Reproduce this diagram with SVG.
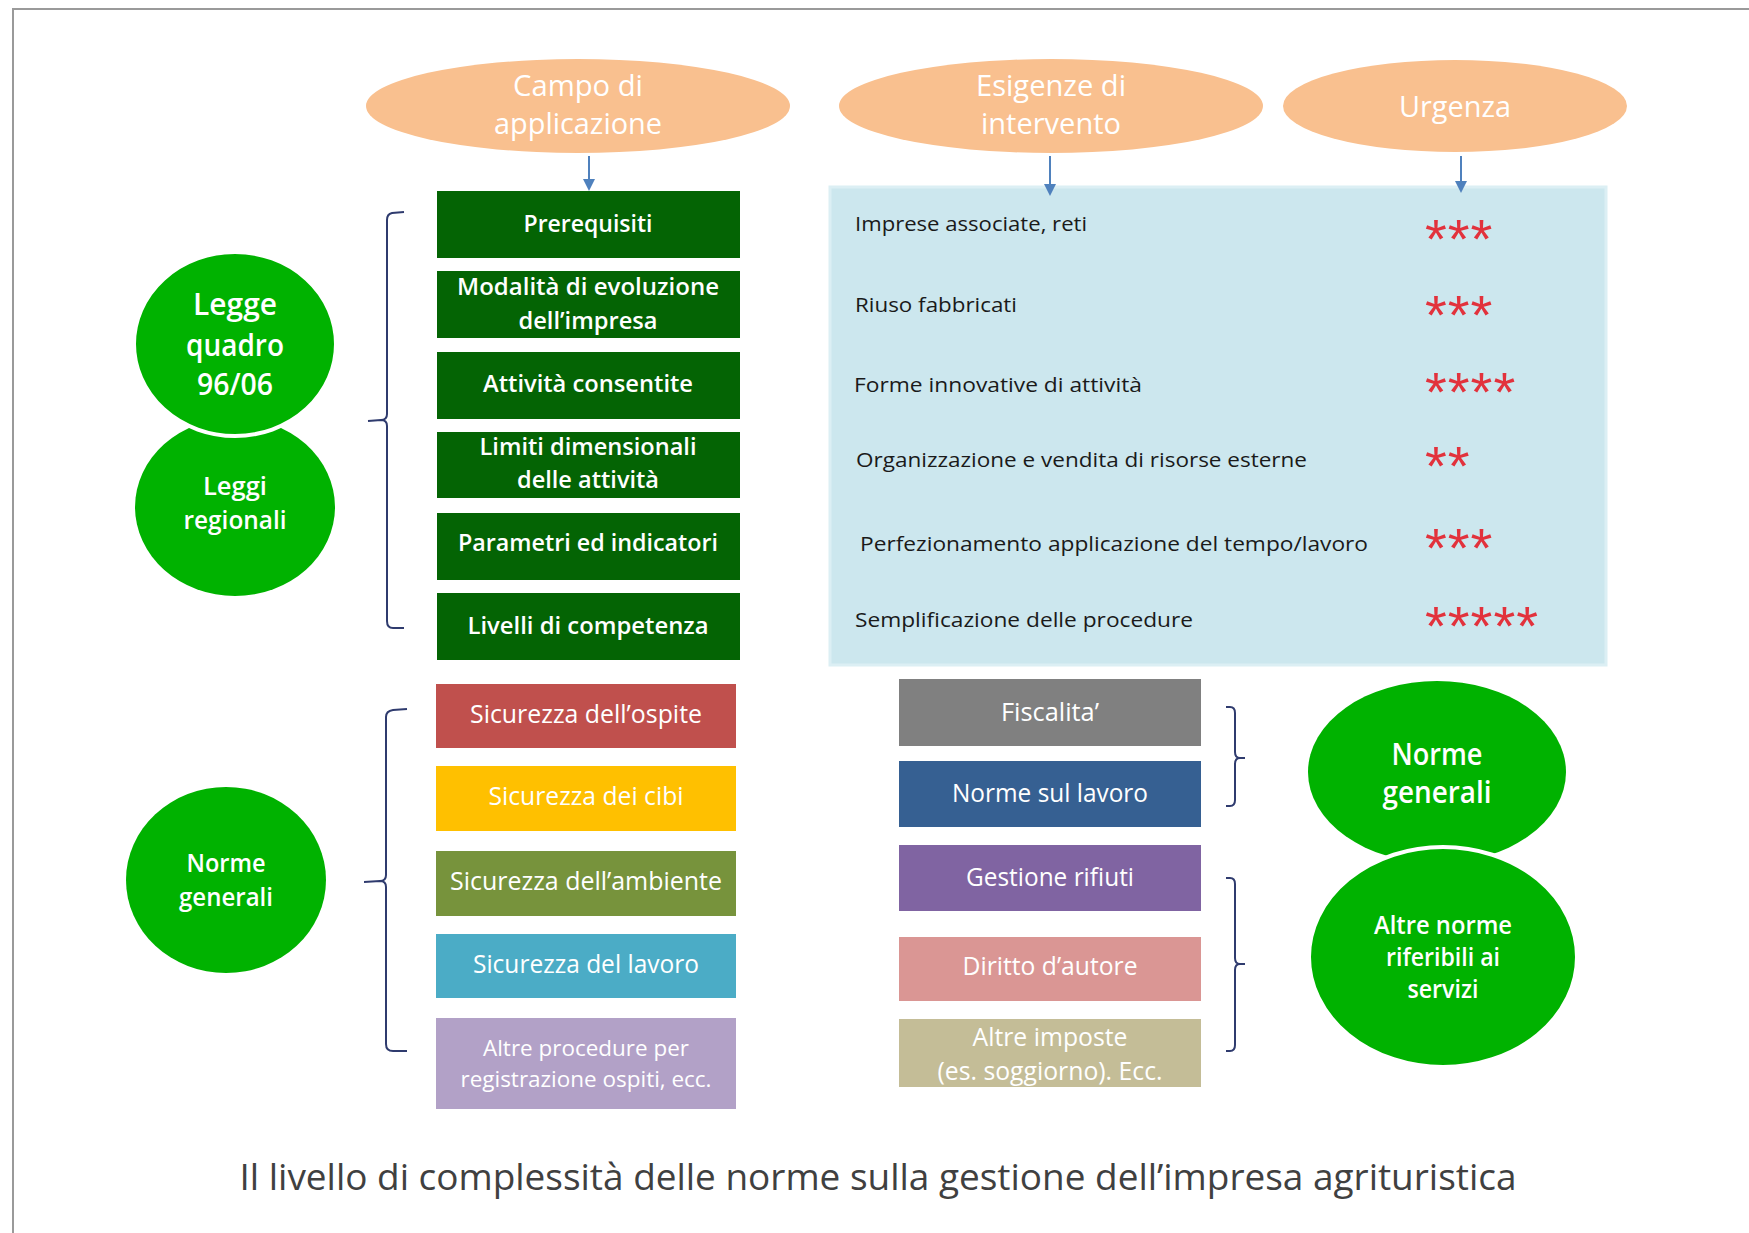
<svg xmlns="http://www.w3.org/2000/svg" width="1749" height="1233" viewBox="0 0 1749 1233">
<defs>
<style>
.t{font-family:"Open Sans","Liberation Sans",Arial,sans-serif;fill:#fff;text-anchor:middle}
.sb{font-weight:600}
.d{font-family:"Open Sans","Liberation Sans",Arial,sans-serif;fill:#1a1a1a;font-size:20px}
.st{font-family:"Liberation Sans",Arial,sans-serif;fill:#E2323C;font-size:56px;letter-spacing:1px}
.hd{fill:#F9C08F}
.gb{fill:#046404}
.gc{fill:#00B200}
.br{fill:none;stroke:#2F3B6E;stroke-width:2}
.ar{stroke:#4F81BD;stroke-width:2}
.ah{fill:#4F81BD}
</style>
</defs>
<rect x="0" y="0" width="1749" height="1233" fill="#fff"/>
<path d="M13,1233 L13,9 L1749,9" fill="none" stroke="#9a9a9a" stroke-width="2"/>

<g id="hdr-campo"><ellipse class="hd" cx="578" cy="106" rx="212" ry="47"/>
<text class="t" font-size="30" x="578" y="96" textLength="130" lengthAdjust="spacingAndGlyphs">Campo di</text>
<text class="t" font-size="30" x="578" y="134" textLength="168" lengthAdjust="spacingAndGlyphs">applicazione</text></g>
<g id="hdr-esigenze"><ellipse class="hd" cx="1051" cy="106" rx="212" ry="47"/>
<text class="t" font-size="30" x="1051" y="96" textLength="150" lengthAdjust="spacingAndGlyphs">Esigenze di</text>
<text class="t" font-size="30" x="1051" y="134" textLength="140" lengthAdjust="spacingAndGlyphs">intervento</text></g>
<g id="hdr-urgenza"><ellipse class="hd" cx="1455" cy="106" rx="172" ry="46"/>
<text class="t" font-size="30" x="1455" y="117" textLength="112" lengthAdjust="spacingAndGlyphs">Urgenza</text></g>

<g id="c-leggi"><ellipse class="gc" cx="235" cy="507" rx="100" ry="89"/>
<text class="t sb" font-size="26" x="235" y="495" textLength="64" lengthAdjust="spacingAndGlyphs">Leggi</text>
<text class="t sb" font-size="26" x="235" y="529" textLength="103" lengthAdjust="spacingAndGlyphs">regionali</text></g>
<g id="c-legge"><ellipse class="gc" cx="235" cy="344" rx="101" ry="92" stroke="#fff" stroke-width="4"/>
<text class="t sb" font-size="30" x="235" y="315" textLength="84" lengthAdjust="spacingAndGlyphs">Legge</text>
<text class="t sb" font-size="30" x="235" y="356" textLength="98" lengthAdjust="spacingAndGlyphs">quadro</text>
<text class="t sb" font-size="30" x="235" y="395" textLength="76" lengthAdjust="spacingAndGlyphs">96/06</text></g>

<g id="b-prerequisiti"><rect class="gb" x="437" y="191" width="303" height="67"/>
<text class="t sb" font-size="24" x="588" y="232" textLength="129" lengthAdjust="spacingAndGlyphs">Prerequisiti</text></g>
<g id="b-modalita"><rect class="gb" x="437" y="271" width="303" height="67"/>
<text class="t sb" font-size="24" x="588" y="295" textLength="262" lengthAdjust="spacingAndGlyphs">Modalità di evoluzione</text>
<text class="t sb" font-size="24" x="588" y="329" textLength="139" lengthAdjust="spacingAndGlyphs">dell’impresa</text></g>
<g id="b-attivita"><rect class="gb" x="437" y="352" width="303" height="67"/>
<text class="t sb" font-size="24" x="588" y="392" textLength="210" lengthAdjust="spacingAndGlyphs">Attività consentite</text></g>
<g id="b-limiti"><rect class="gb" x="437" y="432" width="303" height="66"/>
<text class="t sb" font-size="24" x="588" y="455" textLength="217" lengthAdjust="spacingAndGlyphs">Limiti dimensionali</text>
<text class="t sb" font-size="24" x="588" y="488" textLength="142" lengthAdjust="spacingAndGlyphs">delle attività</text></g>
<g id="b-parametri"><rect class="gb" x="437" y="513" width="303" height="67"/>
<text class="t sb" font-size="24" x="588" y="551" textLength="260" lengthAdjust="spacingAndGlyphs">Parametri ed indicatori</text></g>
<g id="b-livelli"><rect class="gb" x="437" y="593" width="303" height="67"/>
<text class="t sb" font-size="24" x="588" y="634" textLength="241" lengthAdjust="spacingAndGlyphs">Livelli di competenza</text></g>

<g id="panel"><rect x="830" y="187" width="776" height="478" fill="#CCE7EE" stroke="#DCEFF4" stroke-width="3"/>
<text class="d" x="855" y="231" textLength="232" lengthAdjust="spacingAndGlyphs">Imprese associate, reti</text>
<text class="d" x="855" y="312" textLength="162" lengthAdjust="spacingAndGlyphs">Riuso fabbricati</text>
<text class="d" x="854" y="392" textLength="288" lengthAdjust="spacingAndGlyphs">Forme innovative di attività</text>
<text class="d" x="856" y="467" textLength="451" lengthAdjust="spacingAndGlyphs">Organizzazione e vendita di risorse esterne</text>
<text class="d" x="860" y="551" textLength="508" lengthAdjust="spacingAndGlyphs">Perfezionamento applicazione del tempo/lavoro</text>
<text class="d" x="855" y="627" textLength="338" lengthAdjust="spacingAndGlyphs">Semplificazione delle procedure</text>
<text class="st" x="1425" y="258">***</text>
<text class="st" x="1425" y="334">***</text>
<text class="st" x="1425" y="411">****</text>
<text class="st" x="1425" y="485">**</text>
<text class="st" x="1425" y="567">***</text>
<text class="st" x="1425" y="645">*****</text>
</g>

<g id="b-ospite"><rect x="436" y="684" width="300" height="64" fill="#C0504D"/>
<text class="t" font-size="26" x="586" y="723" textLength="232" lengthAdjust="spacingAndGlyphs">Sicurezza dell’ospite</text></g>
<g id="b-cibi"><rect x="436" y="766" width="300" height="65" fill="#FFC000"/>
<text class="t" font-size="26" x="586" y="805" textLength="195" lengthAdjust="spacingAndGlyphs">Sicurezza dei cibi</text></g>
<g id="b-ambiente"><rect x="436" y="851" width="300" height="65" fill="#77933C"/>
<text class="t" font-size="26" x="586" y="890" textLength="272" lengthAdjust="spacingAndGlyphs">Sicurezza dell’ambiente</text></g>
<g id="b-lavoro"><rect x="436" y="934" width="300" height="64" fill="#4BACC6"/>
<text class="t" font-size="26" x="586" y="973" textLength="226" lengthAdjust="spacingAndGlyphs">Sicurezza del lavoro</text></g>
<g id="b-altreproc"><rect x="436" y="1018" width="300" height="91" fill="#B2A1C7"/>
<text class="t" font-size="22" x="586" y="1056" textLength="206" lengthAdjust="spacingAndGlyphs">Altre procedure per</text>
<text class="t" font-size="22" x="586" y="1087" textLength="251" lengthAdjust="spacingAndGlyphs">registrazione ospiti, ecc.</text></g>

<g id="c-norme-left"><ellipse class="gc" cx="226" cy="880" rx="100" ry="93"/>
<text class="t sb" font-size="26" x="226" y="872" textLength="79" lengthAdjust="spacingAndGlyphs">Norme</text>
<text class="t sb" font-size="26" x="226" y="906" textLength="94" lengthAdjust="spacingAndGlyphs">generali</text></g>

<g id="b-fiscalita"><rect x="899" y="679" width="302" height="67" fill="#808080"/>
<text class="t" font-size="26" x="1050" y="721" textLength="98" lengthAdjust="spacingAndGlyphs">Fiscalita’</text></g>
<g id="b-normelavoro"><rect x="899" y="761" width="302" height="66" fill="#366092"/>
<text class="t" font-size="26" x="1050" y="802" textLength="196" lengthAdjust="spacingAndGlyphs">Norme sul lavoro</text></g>
<g id="b-rifiuti"><rect x="899" y="845" width="302" height="66" fill="#8064A2"/>
<text class="t" font-size="26" x="1050" y="886" textLength="168" lengthAdjust="spacingAndGlyphs">Gestione rifiuti</text></g>
<g id="b-autore"><rect x="899" y="937" width="302" height="64" fill="#DA9694"/>
<text class="t" font-size="26" x="1050" y="975" textLength="175" lengthAdjust="spacingAndGlyphs">Diritto d’autore</text></g>
<g id="b-imposte"><rect x="899" y="1019" width="302" height="68" fill="#C4BD97"/>
<text class="t" font-size="26" x="1050" y="1046" textLength="155" lengthAdjust="spacingAndGlyphs">Altre imposte</text>
<text class="t" font-size="26" x="1050" y="1080" textLength="225" lengthAdjust="spacingAndGlyphs">(es. soggiorno). Ecc.</text></g>

<g id="c-norme-right"><ellipse class="gc" cx="1437" cy="772" rx="129" ry="91"/>
<text class="t sb" font-size="30" x="1437" y="765" textLength="91" lengthAdjust="spacingAndGlyphs">Norme</text>
<text class="t sb" font-size="30" x="1437" y="803" textLength="109" lengthAdjust="spacingAndGlyphs">generali</text></g>
<g id="c-altre-norme"><ellipse class="gc" cx="1443" cy="957" rx="134" ry="110" stroke="#fff" stroke-width="4"/>
<text class="t sb" font-size="25" x="1443" y="934" textLength="138" lengthAdjust="spacingAndGlyphs">Altre norme</text>
<text class="t sb" font-size="25" x="1443" y="966" textLength="114" lengthAdjust="spacingAndGlyphs">riferibili ai</text>
<text class="t sb" font-size="25" x="1443" y="998" textLength="71" lengthAdjust="spacingAndGlyphs">servizi</text></g>

<g id="connectors">
<line class="ar" x1="589" y1="156" x2="589" y2="180"/><path class="ah" d="M583,179 L595,179 L589,191 z"/>
<line class="ar" x1="1050" y1="156" x2="1050" y2="185"/><path class="ah" d="M1044,184 L1056,184 L1050,196 z"/>
<line class="ar" x1="1461" y1="156" x2="1461" y2="182"/><path class="ah" d="M1455,181 L1467,181 L1461,193 z"/>
<path class="br" d="M404,212 L392,213 Q387,214 387,220 L387,414 Q387,420 381,420 L368,421 M381,420 Q387,420 387,426 L387,621 Q387,628 393,628 L404,628"/>
<path class="br" d="M407,709 L393,710 Q386,711 386,717 L386,875 Q386,881 380,881 L364,882 M380,881 Q386,881 386,887 L386,1044 Q386,1051 393,1051 L407,1051"/>
<path class="br" d="M1226,707 L1230,707 Q1235,707 1235,713 L1235,752 Q1235,758 1240,758 L1245,758 M1240,758 Q1235,758 1235,764 L1235,800 Q1235,806 1230,806 L1226,806"/>
<path class="br" d="M1226,878 L1230,878 Q1235,878 1235,884 L1235,958 Q1235,964 1240,964 L1245,964 M1240,964 Q1235,964 1235,970 L1235,1045 Q1235,1051 1230,1051 L1226,1051"/>
</g>

<text x="878" y="1190" font-family="Open Sans, Liberation Sans, Arial, sans-serif" font-size="36" fill="#404040" text-anchor="middle" textLength="1277" lengthAdjust="spacingAndGlyphs">Il livello di complessità delle norme sulla gestione dell’impresa agrituristica</text>
</svg>
